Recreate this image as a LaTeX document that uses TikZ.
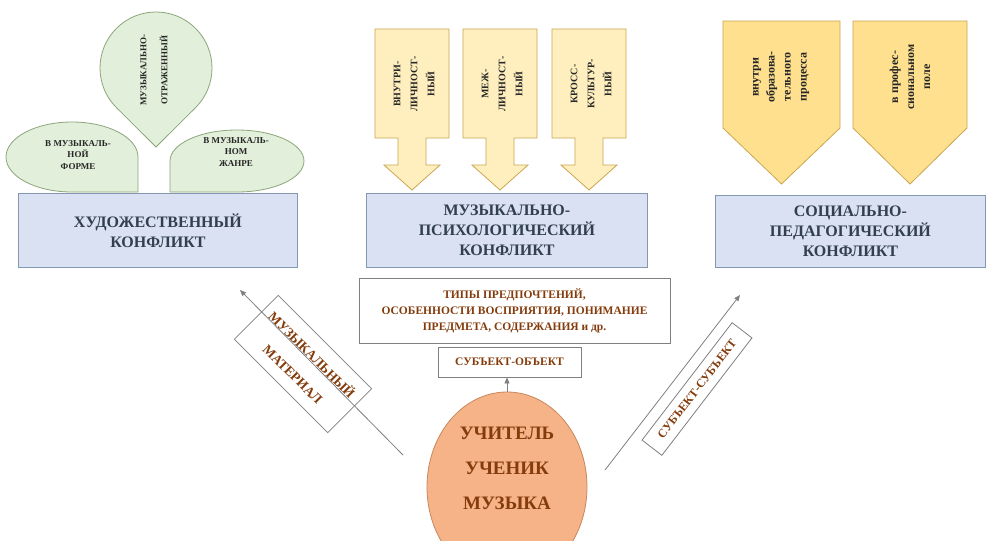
\documentclass[tikz,border=0pt]{standalone}
\usepackage{fontspec}
\setmainfont{Liberation Serif}
\usetikzlibrary{arrows.meta,shapes.geometric}
\definecolor{bluefill}{HTML}{D9E1F2}
\definecolor{blueedge}{HTML}{8497B0}
\definecolor{bluetext}{HTML}{323F4F}
\definecolor{greenfill}{HTML}{E2EFDA}
\definecolor{greenedge}{HTML}{8CA57A}
\definecolor{yellowlight}{HTML}{FFEFBF}
\definecolor{yellowdeep}{HTML}{FFE08F}
\definecolor{yellowedge}{HTML}{C9A650}
\definecolor{orangefill}{HTML}{F5B387}
\definecolor{orangeedge}{HTML}{C8875C}
\definecolor{browntext}{HTML}{843C0C}
\definecolor{grayline}{HTML}{808080}
\begin{document}
\begin{tikzpicture}[x=1pt,y=1pt,
  conflict/.style={draw=blueedge, fill=bluefill, line width=0.8pt, text=bluetext,
    font=\bfseries\fontsize{16}{20}\selectfont, align=center, inner sep=0pt},
  leaf/.style={draw=greenedge, fill=greenfill, line width=0.8pt},
  leaftext/.style={font=\bfseries\fontsize{9}{11.5}\selectfont, text=black!85, align=center},
  yarrow/.style={draw=yellowedge, fill=yellowlight, line width=0.8pt, line join=miter},
  ypent/.style={draw=yellowedge, fill=yellowdeep, line width=0.8pt},
  vtext/.style={font=\bfseries\fontsize{10}{17}\selectfont, text=black!85, align=center, rotate=90},
  ptext/.style={font=\bfseries\fontsize{12}{16}\selectfont, text=black!85, align=center, rotate=90},
  plainbox/.style={draw=grayline, line width=0.8pt, text=browntext, align=center, inner sep=0pt,
    font=\bfseries\fontsize{11.5}{16}\selectfont},
  arr/.style={draw=grayline, line width=0.8pt, -{Triangle[length=6pt,width=5pt]}}
]
\useasboundingbox (0,0) rectangle (989,-541);
\clip (0,0) rectangle (989,-541);
\fill[white] (0,0) rectangle (989,-541);

% green leaves
\draw[leaf] (138,-157) arc[start angle=0, end angle=270, x radius=66, y radius=35] -- (138,-192) -- cycle;
\draw[leaf] (237,-192) arc[start angle=270, end angle=540, x radius=67, y radius=31] -- (170,-192) -- cycle;
\draw[leaf] (195.6,-107.6) arc[start angle=-45, end angle=225, radius=56] -- (156,-147) -- cycle;
\node[leaftext] (form) at (78,-155) {В МУЗЫКАЛЬ-\\НОЙ\\ФОРМЕ};
\node[leaftext] (genre) at (236,-152) {В МУЗЫКАЛЬ-\\НОМ\\ЖАНРЕ};
\node[leaftext, rotate=90, font=\bfseries\fontsize{9}{21}\selectfont] (refl) at (154,-70) {МУЗЫКАЛЬНО-\\ОТРАЖЕННЫЙ};

% yellow down arrows
\foreach \c in {412,500,589}{
  \draw[yarrow] ({\c-37},-29) -- ({\c+37},-29) -- ({\c+37},-138) -- ({\c+14},-138) -- ({\c+14},-165)
    -- ({\c+28},-165) -- (\c,-190) -- ({\c-28},-165) -- ({\c-14},-165) -- ({\c-14},-138)
    -- ({\c-37},-138) -- cycle;
}
\node[vtext] (intra) at (414,-84) {ВНУТРИ-\\ЛИЧНОСТ-\\НЫЙ};
\node[vtext] (inter) at (502,-84) {МЕЖ-\\ЛИЧНОСТ-\\НЫЙ};
\node[vtext] (cross) at (591,-84) {КРОСС-\\КУЛЬТУР-\\НЫЙ};

% yellow pentagons
\draw[ypent] (723,-21) -- (840,-21) -- (840,-128) -- (781.5,-184) -- (723,-128) -- cycle;
\draw[ypent] (853,-21) -- (967,-21) -- (967,-128) -- (910,-184) -- (853,-128) -- cycle;
\node[ptext] (inproc) at (781,-77) {внутри\\образова-\\тельного\\процесса};
\node[ptext] (inprof) at (910,-77) {в профес-\\сиональном\\поле};

% conflict boxes
\node[conflict, minimum width=279, minimum height=74, anchor=north west] (art) at (18,-193) {ХУДОЖЕСТВЕННЫЙ\\КОНФЛИКТ};
\node[conflict, minimum width=281, minimum height=74, anchor=north west] (psy) at (366,-193) {МУЗЫКАЛЬНО-\\ПСИХОЛОГИЧЕСКИЙ\\КОНФЛИКТ};
\node[conflict, minimum width=270, minimum height=72, anchor=north west] (soc) at (715,-195) {СОЦИАЛЬНО-\\ПЕДАГОГИЧЕСКИЙ\\КОНФЛИКТ};

% centre boxes
\node[plainbox, fill=white, minimum width=311, minimum height=65] (prefs) at (514.5,-310.5)
  {ТИПЫ ПРЕДПОЧТЕНИЙ,\\ОСОБЕННОСТИ ВОСПРИЯТИЯ, ПОНИМАНИЕ\\ПРЕДМЕТА, СОДЕРЖАНИЯ и др.};
\node[plainbox, fill=white, minimum width=143, minimum height=30] (subj) at (509.5,-362) {СУБЪЕКТ-ОБЪЕКТ};

% core ellipse
\node[ellipse, draw=orangeedge, fill=orangefill, line width=0.8pt, minimum width=160, minimum height=190, inner sep=0pt] (core) at (507,-487) {};
\node[font=\bfseries\fontsize{19}{35}\selectfont, text=browntext, align=center] (coretext) at (507,-468) {УЧИТЕЛЬ\\УЧЕНИК\\МУЗЫКА};
\draw[arr] (core.north) -- (core.north |- subj.south);

% diagonal arrows
\coordinate (la) at (403,-455);
\coordinate (lb) at (240,-290);
\node[plainbox, rotate=-45, minimum width=132, minimum height=62, font=\bfseries\fontsize{13.5}{27}\selectfont] (mat) at (303,-364) {МУЗЫКАЛЬНЫЙ\\МАТЕРИАЛ};
\draw[arr] (la) -- (lb);
\coordinate (ra) at (605,-470);
\coordinate (rb) at (740,-295);
\draw[arr] (ra) -- (rb);
\node[plainbox, rotate=52.5, minimum width=148, minimum height=25, font=\bfseries\fontsize{12}{14}\selectfont] (subsub) at (697,-389) {СУБЪЕКТ-СУБЪЕКТ};
\end{tikzpicture}
\end{document}
